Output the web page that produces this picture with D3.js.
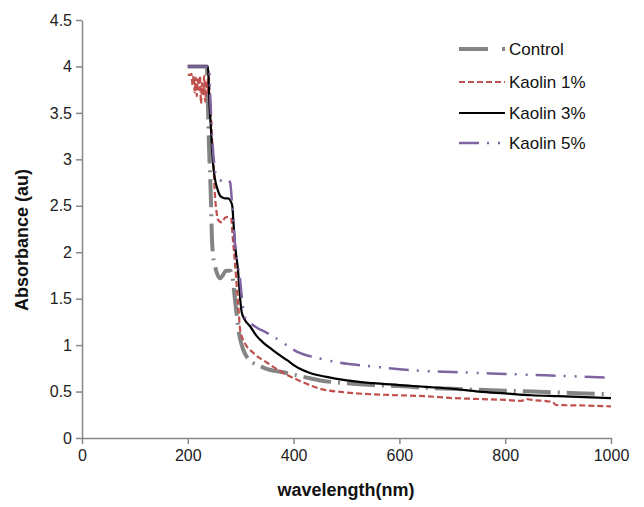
<!DOCTYPE html>
<html><head><meta charset="utf-8">
<script src="https://cdn.jsdelivr.net/npm/d3@7"></script>
<style>body{margin:0;background:#fff;} text{font-family:"Liberation Sans",Arial,sans-serif;}</style>
</head><body><svg id="c" width="644" height="507"></svg>
<script>
const seriesNames = ["Control", "Kaolin 1%", "Kaolin 3%", "Kaolin 5%"];
const xTicks = [0, 200, 400, 600, 800, 1000];
const yTicks = [0, 0.5, 1, 1.5, 2, 2.5, 3, 3.5, 4, 4.5];

const control = [[200,4.0],[236,4.0],[238,3.6],[240,3.15],[243,2.7],[246,2.1],[248,1.95],[251,1.86],[256,1.76],[261,1.72],[266,1.75],[272,1.8],[280,1.8],[284,1.75],[289,1.5],[293,1.3],[297,1.12],[302,1.0],[307,0.92],[312,0.87],[342,0.76],[387,0.7],[425,0.65],[450,0.62],[500,0.59],[550,0.57],[600,0.56],[650,0.54],[700,0.53],[750,0.52],[800,0.51],[850,0.5],[900,0.49],[950,0.48],[1000,0.47]];
const kaolin1 = [[200,3.91],[204,3.91],[207,3.92],[209,3.8],[211,3.9],[213,3.72],[215,3.88],[217,3.68],[219,3.86],[221,3.75],[223,3.9],[225,3.6],[227,3.82],[229,3.7],[231,3.9],[233,3.62],[235,3.85],[237,3.72],[239,3.95],[241,3.75],[243,3.55],[246,3.2],[249,2.9],[251,2.64],[254,2.45],[257,2.35],[265,2.32],[270,2.37],[276,2.38],[282,2.36],[285,2.15],[289,1.9],[293,1.6],[296,1.38],[299,1.16],[308,1.02],[323,0.92],[350,0.81],[387,0.68],[406,0.63],[450,0.53],[500,0.49],[550,0.47],[600,0.46],[650,0.45],[700,0.43],[750,0.42],[800,0.41],[830,0.4],[840,0.42],[850,0.41],[880,0.395],[890,0.385],[896,0.355],[950,0.35],[1000,0.34]];
const kaolin3 = [[200,4.0],[238,4.0],[241,3.6],[244,3.3],[247,3.0],[251,2.8],[255,2.7],[260,2.62],[265,2.59],[270,2.58],[276,2.58],[281,2.55],[284,2.5],[286,2.35],[289,2.1],[295,1.8],[299,1.5],[302,1.35],[308,1.27],[318,1.2],[330,1.1],[342,1.03],[360,0.95],[387,0.84],[410,0.75],[431,0.7],[460,0.66],[500,0.62],[550,0.59],[600,0.57],[650,0.55],[700,0.53],[750,0.5],[800,0.48],[850,0.46],[900,0.45],[950,0.44],[1000,0.43]];
const kaolin5 = [[200,4.0],[240,4.0],[243,3.6],[247,3.15],[251,2.9],[256,2.79],[265,2.77],[276,2.78],[280,2.75],[284,2.5],[289,2.1],[295,1.85],[299,1.7],[302,1.52],[308,1.3],[318,1.24],[327,1.2],[350,1.13],[371,1.06],[406,0.93],[446,0.86],[488,0.81],[550,0.77],[600,0.74],[650,0.72],[700,0.71],[750,0.7],[800,0.69],[850,0.68],[900,0.67],[950,0.66],[1000,0.65]];

const seriesData = [control, kaolin1, kaolin3, kaolin5];
const colors = ["#848484", "#C0504D", "#000000", "#8064A2"];
const widths = [4, 2.2, 2.2, 2.5];
const dashes = ["28,7,2,7", "6,3", null, "20,8,2,9,2,8"];

const svg = d3.select("#c");
const m = {l: 82, r: 611, t: 20, b: 438};
const x = d3.scaleLinear().domain([0, 1000]).range([m.l, m.r]);
const y = d3.scaleLinear().domain([0, 4.5]).range([m.b, m.t]);

const axisColor = "#878787";
const yAxis = svg.append("g").attr("transform", `translate(${m.l},0)`)
  .call(d3.axisLeft(y).tickValues(yTicks).tickSize(6).tickFormat(d3.format("")).tickSizeOuter(0));
const xAxis = svg.append("g").attr("transform", `translate(0,${m.b})`)
  .call(d3.axisBottom(x).tickValues(xTicks).tickSize(6).tickFormat(d3.format("")).tickSizeOuter(0));
[yAxis, xAxis].forEach(a => {
  a.selectAll("path,line").attr("stroke", axisColor).attr("stroke-width", 1.5);
  a.selectAll("text").attr("fill", "#222").style("font-size", "16px").style("font-family", "Liberation Sans, Arial, sans-serif");
});
yAxis.selectAll("text").attr("x", -10);
xAxis.selectAll("text").attr("y", 12);

const line = d3.line().x(d => x(d[0])).y(d => y(d[1])).curve(d3.curveMonotoneX);
seriesData.forEach((s, i) => {
  svg.append("path").datum(s).attr("d", line).attr("fill", "none")
    .attr("stroke", colors[i]).attr("stroke-width", widths[i])
    .attr("stroke-dasharray", dashes[i]).attr("stroke-linejoin", "round");
});

// legend
const lg = svg.append("g");
const rows = [49, 82, 113, 143];
seriesNames.forEach((n, i) => {
  lg.append("line").attr("x1", 459).attr("x2", 505).attr("y1", rows[i]).attr("y2", rows[i])
    .attr("stroke", colors[i]).attr("stroke-width", widths[i]).attr("stroke-dasharray", i===0 ? "29,14,3,20" : dashes[i]);
  lg.append("text").attr("x", 509).attr("y", rows[i]).attr("dy", "0.35em")
    .style("font-size", "17px").attr("fill", "#111").text(n);
});

svg.append("text").attr("x", 346).attr("y", 496).attr("text-anchor", "middle")
  .style("font-size", "18px").style("font-weight", "bold").attr("fill", "#111").text("wavelength(nm)");
svg.append("text").attr("transform", "translate(28,240) rotate(-90)").attr("text-anchor", "middle")
  .style("font-size", "18px").style("font-weight", "bold").attr("fill", "#111").text("Absorbance (au)");
</script></body></html>
